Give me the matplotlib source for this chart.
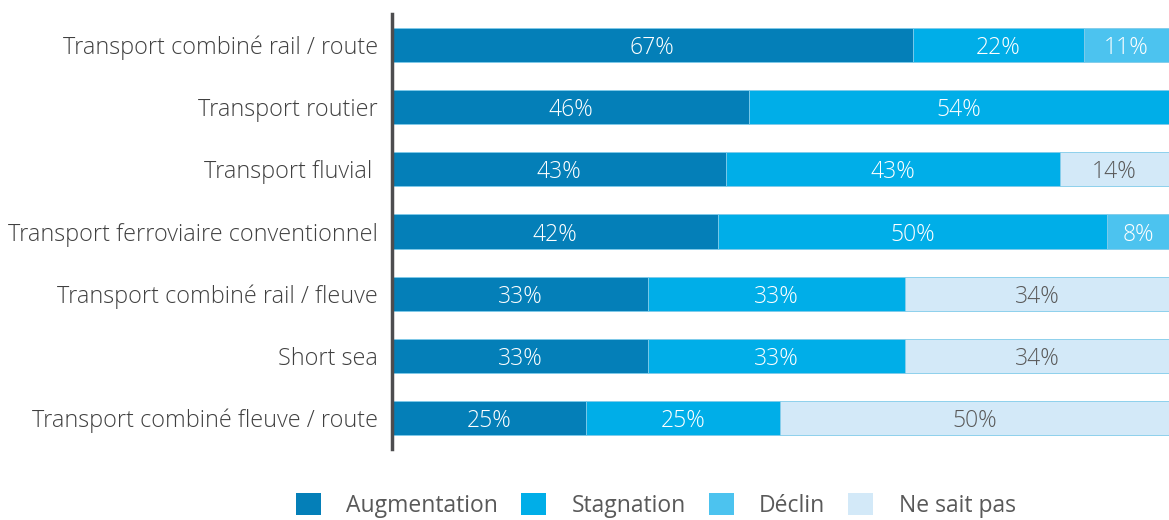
import matplotlib.pyplot as plt
import numpy as np
from matplotlib.patches import Patch

plt.rcParams['font.family'] = ['Open Sans', 'DejaVu Sans']

categories = ['Transport combiné rail / route', 'Transport routier', 'Transport fluvial ',
              'Transport ferroviaire conventionnel', 'Transport combiné rail / fleuve',
              'Short sea', 'Transport combiné fleuve / route']
series = ['Augmentation', 'Stagnation', 'Déclin', 'Ne sait pas']
augmentation = [67, 46, 43, 42, 33, 33, 25]
stagnation = [22, 54, 43, 50, 33, 33, 25]
declin = [11, 0, 0, 8, 0, 0, 0]
ne_sait_pas = [0, 0, 14, 0, 34, 34, 50]

colors = ['#047FB8', '#00AEE8', '#4CC3EF', '#D3E9F8']
text_colors = ['white', 'white', 'white', '#595959']

fig = plt.figure(figsize=(11.69, 5.2), dpi=100)
ax = fig.add_axes([0.3353, 0.1365, 0.6647, 0.8365])

y = np.arange(len(categories))
left = np.zeros(len(categories))
for vals, col, tc in zip([augmentation, stagnation, declin, ne_sait_pas], colors, text_colors):
    vals = np.array(vals, dtype=float)
    ax.barh(y, vals, left=left, height=0.55, color=col, edgecolor='#7FCBEA', linewidth=0.6)
    for yi, v, l in zip(y, vals, left):
        if v > 0:
            ax.text(l + v / 2, yi, f'{int(v)}%', ha='center', va='center_baseline',
                    color=tc, fontsize=16.5, fontweight='light')
    left += vals

ax.set_xlim(0, 100)
ax.set_ylim(len(categories) - 0.5, -0.5)
ax.set_yticks(y)
ax.set_yticklabels(categories, fontsize=16.8, color='#404040', fontweight='light')
ax.tick_params(axis='y', length=0, pad=10)
ax.set_xticks([])
for s in ['top', 'right', 'bottom']:
    ax.spines[s].set_visible(False)
ax.spines['left'].set_color('#4D4D4F')
ax.spines['left'].set_linewidth(2.5)

handles = [Patch(facecolor=c, edgecolor='none') for c in colors]
fig.legend(handles, series, loc='center', bbox_to_anchor=(0.561, 0.028), ncol=4,
           frameon=False, fontsize=16.5, handlelength=1.1, handleheight=1.1,
           columnspacing=1.0, handletextpad=1.1, labelcolor='#595959')

fig.savefig('out.png', dpi=100)
